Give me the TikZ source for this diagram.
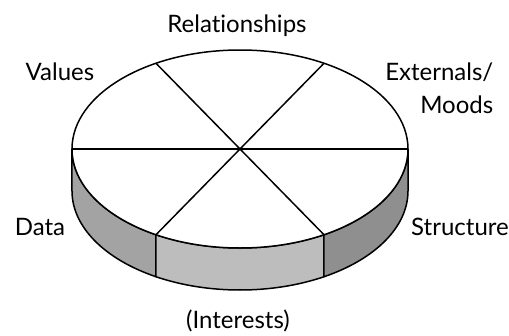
\documentclass[tikz,border=0pt]{standalone}
\usepackage{fontspec}
\setmainfont{Lato}[Ligatures={NoCommon,NoRequired}]
\definecolor{bandleft}{gray}{0.64}
\definecolor{bandmid}{gray}{0.74}
\definecolor{bandright}{gray}{0.56}
\begin{document}
\begin{tikzpicture}[x=1pt,y=1pt,line width=1.5pt,line join=round,
  lbl/.style={font=\fontsize{24}{33}\selectfont,inner sep=0pt,anchor=base}]
  \useasboundingbox (-240,-186) rectangle (269,149);
  % side of the disc
  \foreach \a/\b/\c in {180/240/bandleft,240/300/bandmid,300/360/bandright}
    \filldraw[fill=\c] (\a:168pt and 99pt)
      arc[start angle=\a,end angle=\b,x radius=168pt,y radius=99pt] -- ++(0,-42)
      arc[start angle=\b,end angle=\a,x radius=168pt,y radius=99pt] -- cycle;
  % top face and spokes
  \filldraw[fill=white] (0,0) ellipse[x radius=168pt,y radius=99pt];
  \draw (0:168pt and 99pt) -- (180:168pt and 99pt);
  \draw (60:168pt and 99pt) -- (240:168pt and 99pt);
  \draw (120:168pt and 99pt) -- (300:168pt and 99pt);
  % labels
  \node[lbl] (relationships) at (-3,117) {Relationships};
  \node[lbl] (values) at (-180,68.5) {Values};
  \node[lbl,anchor=base east,align=right] (externals) at (254,36) {Externals/\\Moods};
  \node[lbl] (data) at (-200,-86) {Data};
  \node[lbl] (structure) at (220,-86) {Structure};
  \node[lbl] (interests) at (-2,-179) {(Interests)};
\end{tikzpicture}
\end{document}
